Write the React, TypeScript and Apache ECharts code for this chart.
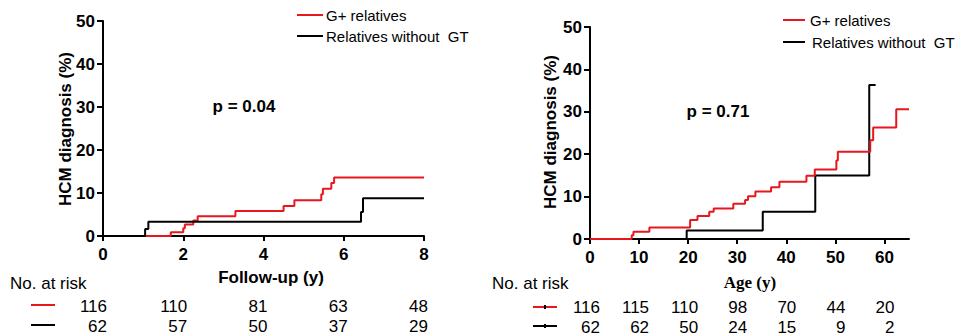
import React, { useEffect, useRef } from 'react';
import * as echarts from 'echarts';

const RED = '#e8161d';
const BLACK = '#000000';
const SANS = '"Liberation Sans", Arial, sans-serif';
const SERIF = '"Liberation Serif", "Times New Roman", serif';

// Left panel: follow-up (years)
const leftRedT = [0, 1.69, 2.0, 2.04, 2.25, 2.36, 3.3, 4.5, 4.77, 5.44, 5.48, 5.69, 5.76, 8];
const leftRedV = [0, 0.9, 1.8, 2.7, 3.6, 4.6, 5.8, 7.0, 8.3, 9.7, 11.0, 12.3, 13.6, 13.6];
const leftBlackT = [0, 1.05, 1.13, 6.43, 6.48, 8];
const leftBlackV = [0, 1.6, 3.3, 5.6, 8.8, 8.8];
const leftRiskTicks = [0, 2, 4, 6, 8];
const leftRiskRed = [116, 110, 81, 63, 48];
const leftRiskBlack = [62, 57, 50, 37, 29];

// Right panel: age (years)
const rightRedT = [0, 8.5, 8.85, 12.1, 20.4, 21.9, 24.3, 25.2, 29.2, 31.6, 32.2, 33.7, 36.9, 38.6, 44.1, 45.8, 50.2, 50.5, 57.1, 57.7, 62.4, 65];
const rightRedV = [0, 0.9, 1.7, 2.7, 4.5, 5.4, 6.4, 7.2, 8.3, 9.2, 10.1, 11.2, 12.2, 13.5, 14.9, 16.4, 18.5, 20.6, 23.3, 26.3, 30.6, 30.6];
const rightBlackT = [0, 19.7, 35.2, 45.9, 56.9, 58.2];
const rightBlackV = [0, 2.0, 6.4, 15.0, 36.3, 36.3];
const rightTicks = [0, 10, 20, 30, 40, 50, 60];
const rightRiskRed = [116, 115, 110, 98, 70, 44, 20];
const rightRiskBlack = [62, 62, 50, 24, 15, 9, 2];

const yTicks = [0, 10, 20, 30, 40, 50];

const pair = (t: number[], v: number[]) => t.map((x, i) => [x, v[i]]);

const axisCommon = {
  axisLine: { show: true, onZero: false, lineStyle: { color: BLACK, width: 2 } },
  axisTick: { show: true, inside: false, lineStyle: { color: BLACK, width: 2 } },
  splitLine: { show: false },
};

const labelStyle = { color: BLACK, fontFamily: SANS, fontWeight: 'bold' as const, fontSize: 17 };

function txt(text: string, x: number, y: number, opts: any = {}) {
  return {
    type: 'text',
    x,
    y,
    rotation: opts.rotation || 0,
    silent: true,
    style: {
      text,
      fill: BLACK,
      fontFamily: opts.family || SANS,
      fontSize: opts.size || 17,
      fontWeight: opts.weight || 'normal',
      textAlign: opts.align || 'left',
      align: opts.align || 'left',
      textVerticalAlign: 'middle',
      verticalAlign: 'middle',
    },
  };
}

function seg(x1: number, y1: number, x2: number, y2: number, color: string) {
  return { type: 'line', silent: true, shape: { x1, y1, x2, y2 }, style: { stroke: color, lineWidth: 2 } };
}

export default function App() {
  const ref = useRef<HTMLDivElement>(null);
  useEffect(() => {
    const chart = echarts.init(ref.current!, null, { renderer: 'svg' });
    const option: any = {
      animation: false,
      backgroundColor: '#ffffff',
      grid: [
        { left: 103, top: 21, width: 321, height: 215, containLabel: false },
        { left: 590, top: 27, width: 319, height: 212, containLabel: false },
      ],
      xAxis: [
        {
          type: 'value', gridIndex: 0, min: 0, max: 8, interval: 2,
          ...axisCommon,
          axisTick: { ...axisCommon.axisTick, length: 5 },
          axisLabel: { ...labelStyle, margin: 10 },
        },
        {
          type: 'value', gridIndex: 1, min: 0, max: 65, interval: 10,
          ...axisCommon,
          axisTick: { ...axisCommon.axisTick, length: 5, customValues: rightTicks },
          axisLabel: { ...labelStyle, margin: 10, customValues: rightTicks },
        },
      ],
      yAxis: [
        {
          type: 'value', gridIndex: 0, min: 0, max: 50, interval: 10,
          ...axisCommon,
          axisTick: { ...axisCommon.axisTick, length: 6 },
          axisLabel: { ...labelStyle, margin: 8, customValues: yTicks },
        },
        {
          type: 'value', gridIndex: 1, min: 0, max: 50, interval: 10,
          ...axisCommon,
          axisTick: { ...axisCommon.axisTick, length: 6 },
          axisLabel: { ...labelStyle, margin: 8, customValues: yTicks },
        },
      ],
      series: [
        {
          type: 'line', xAxisIndex: 0, yAxisIndex: 0, step: 'end', showSymbol: false, symbol: 'none',
          data: pair(leftRedT, leftRedV), lineStyle: { color: RED, width: 2 }, z: 2,
        },
        {
          type: 'line', xAxisIndex: 0, yAxisIndex: 0, step: 'end', showSymbol: false, symbol: 'none',
          data: pair(leftBlackT, leftBlackV), lineStyle: { color: BLACK, width: 2 }, z: 3,
        },
        {
          type: 'line', xAxisIndex: 1, yAxisIndex: 1, step: 'end', showSymbol: false, symbol: 'none',
          data: pair(rightBlackT, rightBlackV), lineStyle: { color: BLACK, width: 2 }, z: 2,
        },
        {
          type: 'line', xAxisIndex: 1, yAxisIndex: 1, step: 'end', showSymbol: false, symbol: 'none',
          data: pair(rightRedT, rightRedV), lineStyle: { color: RED, width: 2 }, z: 3,
        },
      ],
    };
    chart.setOption(option);

    const g: any[] = [];
    // legends
    g.push(seg(297, 15, 323, 15, RED), txt('G+ relatives', 326, 15, { size: 15 }));
    g.push(seg(297, 36, 323, 36, BLACK), txt('Relatives without  GT', 326, 36, { size: 15 }));
    g.push(seg(783, 20, 805, 20, RED), txt('G+ relatives', 810, 20, { size: 15 }));
    g.push(seg(783, 42, 805, 42, BLACK), txt('Relatives without  GT', 812, 42, { size: 15 }));
    // p-values
    g.push(txt('p = 0.04', 244, 106, { weight: 'bold', align: 'center' }));
    g.push(txt('p = 0.71', 718, 111, { weight: 'bold', align: 'center' }));
    // axis titles
    g.push(txt('HCM diagnosis (%)', 65, 129, { weight: 'bold', align: 'center', rotation: Math.PI / 2 }));
    g.push(txt('HCM diagnosis (%)', 550, 132, { weight: 'bold', align: 'center', rotation: Math.PI / 2 }));
    g.push(txt('Follow-up (y)', 271, 277, { weight: 'bold', align: 'center' }));
    g.push(txt('Age (y)', 750, 282, { weight: 'bold', align: 'center', family: SERIF }));
    // risk tables
    g.push(txt('No. at risk', 10, 283));
    g.push(txt('No. at risk', 492, 283));
    g.push(seg(31, 305, 55, 305, RED), seg(31, 325, 55, 325, BLACK));
    g.push(seg(533, 307, 557, 307, RED), seg(545, 305, 545, 309, BLACK));
    g.push(seg(533, 326, 557, 326, BLACK), seg(545, 324, 545, 328, BLACK));
    leftRiskTicks.forEach((t, i) => {
      const x = chart.convertToPixel({ xAxisIndex: 0 }, t) as number;
      g.push(txt(String(leftRiskRed[i]), x + 4, 306.5, { align: 'right' }));
      g.push(txt(String(leftRiskBlack[i]), x + 4, 326.5, { align: 'right' }));
    });
    rightTicks.forEach((t, i) => {
      const x = chart.convertToPixel({ xAxisIndex: 1 }, t) as number;
      g.push(txt(String(rightRiskRed[i]), x + 10, 307, { align: 'right' }));
      g.push(txt(String(rightRiskBlack[i]), x + 10, 327, { align: 'right' }));
    });
    chart.setOption({ graphic: g });
    return () => chart.dispose();
  }, []);
  return <div ref={ref} style={{ position: 'fixed', left: 0, top: 0, width: 958, height: 336 }} />;
}
